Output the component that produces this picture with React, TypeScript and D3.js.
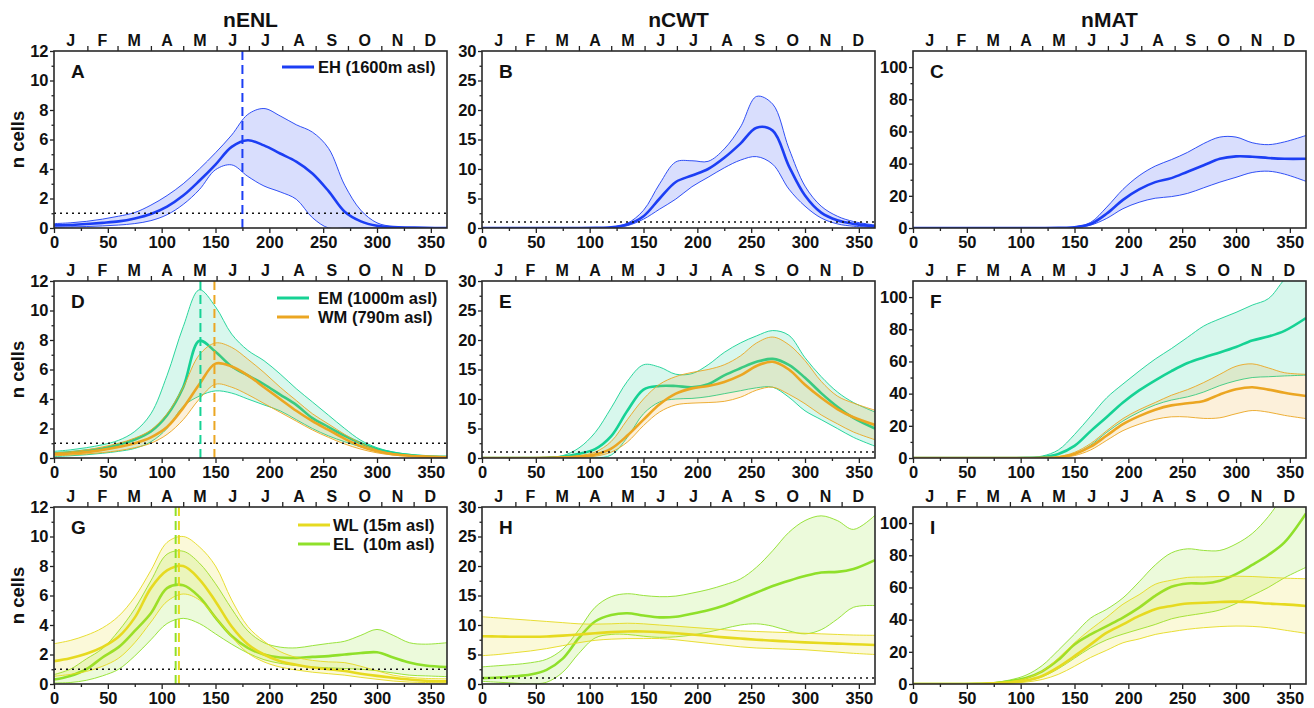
import React, { useEffect, useRef } from 'react';
import * as d3 from 'd3';

// day-of-year sample points shared by every series
const DAYS = [0, 15, 30, 45, 60, 75, 90, 105, 120, 135, 150, 165, 180, 195, 210, 225, 240, 255, 270, 285, 300, 315, 330, 345, 365];

const MONTH_STARTS = [0, 31, 59, 90, 120, 151, 181, 212, 243, 273, 304, 334, 365];
const MONTHS = ['J', 'F', 'M', 'A', 'M', 'J', 'J', 'A', 'S', 'O', 'N', 'D'];
const X_TICKS = [0, 50, 100, 150, 200, 250, 300, 350];
const X_MINOR = [25, 75, 125, 175, 225, 275, 325];
const COL_TITLES = ['nENL', 'nCWT', 'nMAT'];
const Y_MAX = [12, 30, 110];
const Y_TICKS = [[0, 2, 4, 6, 8, 10, 12], [0, 5, 10, 15, 20, 25, 30], [0, 20, 40, 60, 80, 100]];
const Y_MINOR = [[1, 3, 5, 7, 9, 11], [2.5, 7.5, 12.5, 17.5, 22.5, 27.5], [10, 30, 50, 70, 90, 110]];

// nENL
const A_EH_mean = [0.18, 0.2, 0.27, 0.35, 0.45, 0.65, 0.95, 1.45, 2.2, 3.2, 4.3, 5.5, 5.95, 5.6, 5.05, 4.5, 3.7, 2.5, 1.1, 0.45, 0.15, 0.06, 0.03, 0.01, 0];
const A_EH_hi = [0.3, 0.35, 0.45, 0.6, 0.8, 1.05, 1.55, 2.2, 3.0, 4.0, 5.1, 6.3, 7.7, 8.1, 7.6, 7.0, 6.5, 5.4, 2.9, 1.2, 0.35, 0.1, 0.04, 0.02, 0];
const A_EH_lo = [0.05, 0.07, 0.1, 0.14, 0.2, 0.3, 0.5, 0.9, 1.6, 2.6, 3.95, 4.28, 3.5, 2.85, 2.45, 1.95, 0.7, 0, 0, 0, 0, 0, 0, 0, 0];

const D_EM_mean = [0.3, 0.38, 0.5, 0.65, 0.9, 1.25, 1.8, 2.9, 4.8, 7.95, 7.2, 6.2, 5.6, 5.0, 4.3, 3.6, 2.7, 2.1, 1.5, 1.0, 0.6, 0.35, 0.2, 0.12, 0.08];
const D_EM_hi = [0.45, 0.55, 0.7, 0.9, 1.2, 1.8, 3.0, 5.6, 8.9, 11.4, 10.25, 8.4, 7.3, 6.6, 5.7, 4.7, 3.8, 2.9, 2.0, 1.2, 0.7, 0.4, 0.25, 0.15, 0.08];
const D_EM_lo = [0.1, 0.15, 0.22, 0.32, 0.45, 0.65, 1.1, 2.0, 3.5, 4.2, 4.55, 4.4, 4.0, 3.6, 3.2, 2.6, 2.0, 1.5, 1.1, 0.75, 0.45, 0.25, 0.15, 0.1, 0.05];
const D_WM_mean = [0.25, 0.3, 0.4, 0.55, 0.75, 1.0, 1.4, 2.1, 3.4, 5.0, 6.4, 6.2, 5.6, 4.8, 4.0, 3.2, 2.5, 1.9, 1.3, 0.8, 0.45, 0.25, 0.15, 0.1, 0.05];
const D_WM_hi = [0.35, 0.42, 0.55, 0.75, 1.0, 1.35, 1.9, 3.0, 4.8, 7.0, 7.8, 7.5, 6.7, 5.8, 4.8, 3.9, 3.0, 2.3, 1.6, 1.0, 0.55, 0.3, 0.18, 0.12, 0.06];
const D_WM_lo = [0.15, 0.2, 0.27, 0.37, 0.5, 0.7, 1.0, 1.6, 2.6, 4.0, 5.0, 4.8, 4.3, 3.7, 3.1, 2.5, 1.9, 1.4, 0.95, 0.6, 0.35, 0.2, 0.12, 0.07, 0.04];

const G_EL_mean = [0.3, 0.55, 1.0, 1.8, 2.5, 3.6, 4.8, 6.5, 6.7, 5.9, 4.5, 3.25, 2.45, 2.0, 1.8, 1.77, 1.84, 1.89, 2.0, 2.1, 2.15, 1.8, 1.45, 1.25, 1.15];
const G_EL_hi = [0.64, 1.0, 1.7, 2.4, 3.6, 5.1, 7.0, 8.8, 9.0, 8.2, 6.8, 5.1, 3.6, 2.8, 2.5, 2.45, 2.6, 2.75, 2.9, 3.3, 3.7, 3.3, 2.8, 2.7, 2.8];
const G_EL_lo = [0.07, 0.1, 0.25, 0.55, 1.0, 1.9, 3.0, 4.1, 4.45, 4.1, 3.4, 2.7, 2.1, 1.65, 1.4, 1.25, 1.15, 1.1, 1.05, 1.0, 0.9, 0.75, 0.6, 0.55, 0.5];
const G_WL_mean = [1.55, 1.75, 2.05, 2.5, 3.2, 4.5, 6.5, 7.7, 8.0, 7.1, 5.6, 3.9, 2.7, 2.0, 1.55, 1.3, 1.12, 1.0, 0.88, 0.7, 0.55, 0.42, 0.3, 0.22, 0.18];
const G_WL_hi = [2.73, 2.95, 3.3, 3.8, 4.6, 5.9, 7.7, 9.6, 10.0, 9.3, 8.0, 5.7, 3.9, 2.9, 2.2, 1.8, 1.6, 1.5, 1.45, 1.2, 0.9, 0.6, 0.45, 0.38, 0.35];
const G_WL_lo = [0.52, 0.65, 0.85, 1.2, 1.75, 2.8, 4.2, 5.6, 6.1, 5.7, 4.5, 3.2, 2.1, 1.5, 1.15, 0.95, 0.8, 0.7, 0.6, 0.45, 0.32, 0.2, 0.13, 0.1, 0.08];

// nCWT
const B_EH_mean = [0, 0, 0, 0, 0, 0, 0, 0.02, 0.1, 0.6, 2.0, 5.0, 7.8, 8.9, 10.0, 11.9, 14.3, 17.0, 16.5, 10.5, 5.5, 2.6, 1.3, 0.7, 0.3];
const B_EH_hi = [0, 0, 0, 0, 0, 0, 0, 0.02, 0.15, 0.8, 3.0, 7.5, 11.2, 11.4, 11.3, 13.4, 17.1, 22.3, 21.0, 13.5, 7.1, 3.7, 2.0, 1.1, 0.5];
const B_EH_lo = [0, 0, 0, 0, 0, 0, 0, 0, 0.05, 0.4, 1.5, 3.2, 4.9, 7.0, 8.6, 10.2, 11.5, 12.1, 10.8, 6.6, 3.7, 1.7, 0.7, 0.3, 0.1];

const E_EM_mean = [0, 0, 0, 0, 0.05, 0.2, 0.7, 1.5, 3.7, 8.0, 11.6, 12.2, 12.2, 12.0, 12.5, 14.0, 15.2, 16.3, 16.8, 15.8, 13.6, 11.0, 8.7, 6.8, 5.0];
const E_EM_hi = [0, 0, 0, 0.02, 0.1, 0.4, 1.7, 4.3, 8.5, 13.0, 15.8, 15.4, 14.2, 14.3, 15.8, 17.9, 19.5, 20.7, 21.6, 20.8, 17.0, 13.8, 11.2, 9.4, 7.8];
const E_EM_lo = [0, 0, 0, 0, 0, 0, 0, 0, 0.5, 3.5, 7.5, 9.5, 10.0, 10.1, 10.4, 10.9, 11.4, 11.9, 12.0, 10.3, 8.0, 6.5, 5.0, 3.5, 2.0];
const E_WM_mean = [0, 0, 0, 0, 0.02, 0.1, 0.25, 0.6, 1.6, 3.8, 6.5, 9.1, 10.9, 11.8, 12.2, 12.9, 14.0, 15.6, 16.3, 15.0, 12.4, 10.2, 8.3, 6.9, 5.6];
const E_WM_hi = [0, 0, 0, 0, 0.03, 0.15, 0.4, 1.0, 2.8, 6.5, 10.0, 12.5, 13.8, 14.5, 15.0, 15.8, 17.3, 19.5, 20.5, 19.2, 16.5, 13.0, 10.5, 9.3, 8.1];
const E_WM_lo = [0, 0, 0, 0, 0, 0.05, 0.1, 0.3, 1.0, 2.7, 5.5, 7.8, 9.0, 9.3, 9.4, 9.6, 10.3, 11.5, 12.0, 10.8, 9.2, 7.3, 5.8, 4.4, 3.1];

const H_EL_mean = [1.0, 1.1, 1.3, 1.6, 2.4, 4.3, 7.8, 10.6, 11.7, 12.0, 11.6, 11.3, 11.4, 11.9, 12.5, 13.3, 14.4, 15.5, 16.6, 17.5, 18.3, 18.9, 19.0, 19.5, 21.0];
const H_EL_hi = [2.9, 3.1, 3.3, 3.6, 4.2, 5.9, 9.2, 13.0, 14.8, 15.3, 15.0, 14.8, 14.9, 15.4, 16.0, 16.8, 17.8, 19.8, 22.6, 25.7, 27.7, 28.5, 27.7, 26.2, 28.6];
const H_EL_lo = [0.45, 0.3, 0.15, 0.03, 0.3, 2.0, 5.2, 7.8, 8.4, 8.4, 8.1, 7.9, 8.0, 8.3, 8.8, 9.4, 10.0, 10.2, 9.8, 9.0, 8.5, 9.2, 11.0, 13.0, 13.3];
const H_WL_mean = [8.1, 8.05, 8.0, 8.0, 8.05, 8.2, 8.4, 8.6, 8.8, 8.9, 8.9, 8.8, 8.6, 8.4, 8.15, 7.9, 7.7, 7.5, 7.35, 7.2, 7.05, 6.95, 6.85, 6.75, 6.6];
const H_WL_hi = [11.4, 11.2, 11.0, 10.8, 10.6, 10.4, 10.2, 10.15, 10.2, 10.3, 10.2, 10.0, 9.8, 9.6, 9.4, 9.2, 9.0, 8.9, 8.8, 8.7, 8.6, 8.5, 8.4, 8.3, 8.25];
const H_WL_lo = [4.8, 5.0, 5.3, 5.6, 6.0, 6.5, 7.0, 7.4, 7.6, 7.7, 7.7, 7.7, 7.5, 7.2, 6.9, 6.6, 6.3, 6.1, 6.0, 5.9, 5.8, 5.6, 5.4, 5.2, 5.0];

// nMAT
const C_EH_mean = [0, 0, 0, 0, 0, 0, 0, 0, 0, 0.1, 0.5, 2.5, 9, 17.5, 24, 28.5, 31, 35, 39, 43, 44.5, 44.3, 43.5, 43, 43];
const C_EH_hi = [0, 0, 0, 0, 0, 0, 0, 0, 0, 0.15, 0.7, 3.5, 13, 24, 32.5, 38.5, 42.5, 47, 52.5, 56.5, 56.5, 53, 51.8, 53.5, 57.5];
const C_EH_lo = [0, 0, 0, 0, 0, 0, 0, 0, 0, 0.05, 0.3, 1.8, 6, 12, 16, 18.5, 19.5, 21.5, 25, 28.5, 31.5, 34.5, 35.3, 33.5, 29];

const F_EM_mean = [0, 0, 0, 0, 0, 0, 0, 0.1, 0.5, 2.5, 7.5, 16.7, 25.5, 34.5, 42, 48.3, 54, 59, 62.5, 65.6, 69, 73, 75.5, 79, 87];
const F_EM_hi = [0, 0, 0, 0, 0, 0, 0, 0.2, 1.2, 5, 14.6, 26, 37.5, 46, 54, 61.5, 68, 75, 82, 86.5, 90.5, 95, 99, 111, 125];
const F_EM_lo = [0, 0, 0, 0, 0, 0, 0, 0, 0.1, 0.6, 2.5, 8, 16, 23, 28.5, 33, 36, 38, 41, 45, 48, 50, 50.5, 51, 51.5];
const F_WM_mean = [0, 0, 0, 0, 0, 0, 0, 0, 0.05, 0.5, 2.5, 7, 14, 21, 26, 30, 32.7, 34, 35.4, 39.5, 42.7, 44, 42.5, 40.6, 38.5];
const F_WM_hi = [0, 0, 0, 0, 0, 0, 0, 0, 0.1, 0.8, 3.5, 9, 17, 24.5, 30, 34.5, 39, 42.5, 46.9, 52, 57, 58.5, 56, 53, 52];
const F_WM_lo = [0, 0, 0, 0, 0, 0, 0, 0, 0.02, 0.2, 1.5, 5, 11, 17, 21, 24, 25.6, 25.5, 24.6, 25, 27.5, 29.5, 28.5, 26.5, 24.5];

const I_EL_mean = [0, 0, 0, 0, 0.1, 0.5, 1.7, 3.75, 7.9, 15, 24.6, 30.8, 36, 41.3, 47.5, 54.8, 60.4, 62.5, 62.5, 64.2, 68.3, 74, 80.2, 88, 106];
const I_EL_hi = [0, 0, 0, 0, 0.2, 0.8, 2.5, 5.5, 11.5, 21, 31, 41, 46.5, 53.5, 63.5, 74, 81.5, 84, 83, 83, 87, 93.5, 104, 118, 135];
const I_EL_lo = [0, 0, 0, 0, 0.05, 0.3, 1.0, 2.0, 4.5, 9.5, 16, 22.5, 27.5, 31, 34, 37, 40.5, 42.5, 44, 46, 50, 55, 60, 66, 72.5];
const I_WL_mean = [0, 0, 0, 0, 0.1, 0.5, 1.0, 2.2, 5, 10.5, 17.3, 24.6, 31.9, 37, 42.3, 46.5, 48.5, 50, 50.5, 51, 51.2, 50.8, 50, 49.5, 48.5];
const I_WL_hi = [0, 0, 0, 0, 0.15, 0.7, 1.5, 3.5, 8, 16, 25.6, 34, 41.5, 49.6, 55.5, 62, 64.5, 66.25, 66.5, 66.8, 67, 66.8, 66.3, 65.8, 65.4];
const I_WL_lo = [0, 0, 0, 0, 0.05, 0.3, 0.5, 1.2, 2.8, 6, 11, 16.5, 21, 25.6, 28, 30.8, 32.5, 34, 35, 35.7, 36, 35.8, 35, 33.5, 31.5];

const COLORS = { EH: '#1c3ef4', EM: '#16d294', WM: '#eba622', WL: '#e6da20', EL: '#8fe02a' };
const LEGEND_TEXT = { EH: 'EH (1600m asl)', EM: 'EM (1000m asl)', WM: 'WM (790m asl)', WL: 'WL (15m asl)', EL: 'EL  (10m asl)' };

const PEAK_DAYS = { A: [['EH', 175]], D: [['EM', 136], ['WM', 149]], G: [['EL', 113], ['WL', 116]] };

const PANELS = [
  { id: 'A', col: 0, row: 0, dotted: true, series: [['EH', A_EH_mean, A_EH_hi, A_EH_lo]], legend: ['EH'], lx: 228, ly: 16, lt: 264 },
  { id: 'B', col: 1, row: 0, dotted: true, series: [['EH', B_EH_mean, B_EH_hi, B_EH_lo]] },
  { id: 'C', col: 2, row: 0, dotted: false, series: [['EH', C_EH_mean, C_EH_hi, C_EH_lo]] },
  { id: 'D', col: 0, row: 1, dotted: true, series: [['EM', D_EM_mean, D_EM_hi, D_EM_lo], ['WM', D_WM_mean, D_WM_hi, D_WM_lo]], legend: ['EM', 'WM'], lx: 223, ly: 17, lt: 264 },
  { id: 'E', col: 1, row: 1, dotted: true, series: [['EM', E_EM_mean, E_EM_hi, E_EM_lo], ['WM', E_WM_mean, E_WM_hi, E_WM_lo]] },
  { id: 'F', col: 2, row: 1, dotted: false, series: [['EM', F_EM_mean, F_EM_hi, F_EM_lo], ['WM', F_WM_mean, F_WM_hi, F_WM_lo]] },
  { id: 'G', col: 0, row: 2, dotted: true, series: [['EL', G_EL_mean, G_EL_hi, G_EL_lo], ['WL', G_WL_mean, G_WL_hi, G_WL_lo]], legend: ['WL', 'EL'], lx: 244, ly: 18, lt: 279 },
  { id: 'H', col: 1, row: 2, dotted: true, series: [['EL', H_EL_mean, H_EL_hi, H_EL_lo], ['WL', H_WL_mean, H_WL_hi, H_WL_lo]] },
  { id: 'I', col: 2, row: 2, dotted: false, series: [['EL', I_EL_mean, I_EL_hi, I_EL_lo], ['WL', I_WL_mean, I_WL_hi, I_WL_lo]] },
];

const COL_X = [54, 482, 913];
const ROW_Y = [51, 281, 507];
const PW = 393;
const PH = 177;
const FONT = "'Liberation Sans', Arial, Helvetica, sans-serif";

export default function App() {
  const svgRef = useRef<SVGSVGElement>(null);

  useEffect(() => {
    const svg = d3.select(svgRef.current);
    svg.selectAll('*').remove();

    svg.append('rect').attr('width', 1314).attr('height', 708).attr('fill', '#fff');

    // column titles
    COL_TITLES.forEach((t, c) => {
      svg.append('text')
        .attr('x', COL_X[c] + PW / 2)
        .attr('y', 26.5)
        .attr('text-anchor', 'middle')
        .style('font', `bold 21px ${FONT}`)
        .attr('fill', '#111')
        .text(t);
    });

    // y label for each row
    ROW_Y.forEach(r => {
      svg.append('text')
        .attr('transform', `translate(24,${r + PH / 2}) rotate(-90)`)
        .attr('text-anchor', 'middle')
        .style('font', `bold 18.5px ${FONT}`)
        .attr('fill', '#111')
        .text('n cells');
    });

    const xScale = d3.scaleLinear().domain([0, 365]).range([0, PW]);
    const curve = d3.curveCatmullRom.alpha(0.5);

    PANELS.forEach(p => {
      const yScale = d3.scaleLinear().domain([0, Y_MAX[p.col]]).range([PH, 0]);
      const g = svg.append('g').attr('transform', `translate(${COL_X[p.col]},${ROW_Y[p.row]})`);

      const clipId = `clip-${p.id}`;
      g.append('clipPath').attr('id', clipId)
        .append('rect').attr('width', PW).attr('height', PH);
      const plot = g.append('g').attr('clip-path', `url(#${clipId})`);

      p.series.forEach(([key, mean, hi, lo]: any) => {
        const color = COLORS[key];
        const rows = DAYS.map((d, k) => ({ d, m: mean[k], hi: hi[k], lo: lo[k] }));
        const area = d3.area<any>()
          .x(r => xScale(r.d))
          .y0(r => yScale(r.lo))
          .y1(r => yScale(r.hi))
          .curve(curve);
        plot.append('path').datum(rows)
          .attr('d', area)
          .attr('fill', color)
          .attr('fill-opacity', 0.17);

        ['hi', 'lo'].forEach(k => {
          const line = d3.line<any>().x(r => xScale(r.d)).y(r => yScale(r[k])).curve(curve);
          plot.append('path').datum(rows)
            .attr('d', line)
            .attr('fill', 'none')
            .attr('stroke', color)
            .attr('stroke-width', 1)
            .attr('stroke-opacity', 0.9);
        });

        const meanLine = d3.line<any>().x(r => xScale(r.d)).y(r => yScale(r.m)).curve(curve);
        plot.append('path').datum(rows)
          .attr('d', meanLine)
          .attr('fill', 'none')
          .attr('stroke', color)
          .attr('stroke-width', 2.6);
      });

      if (p.dotted) {
        plot.append('line')
          .attr('x1', 0).attr('x2', PW)
          .attr('y1', yScale(1)).attr('y2', yScale(1))
          .attr('stroke', '#111')
          .attr('stroke-width', 1.5)
          .attr('stroke-dasharray', '2 4');
      }

      const peaks = PEAK_DAYS[p.id] || [];
      peaks.forEach(([key, day]) => {
        plot.append('line')
          .attr('x1', xScale(day)).attr('x2', xScale(day))
          .attr('y1', 0).attr('y2', PH)
          .attr('stroke', COLORS[key])
          .attr('stroke-width', 2)
          .attr('stroke-dasharray', '9 5');
      });

      // axes
      const styleAxis = (sel) => {
        sel.select('.domain').remove();
        sel.selectAll('line').attr('stroke', '#222').attr('stroke-width', 1.3);
        sel.selectAll('text').style('font', `bold 16.5px ${FONT}`).attr('fill', '#111');
      };

      g.append('g').attr('transform', `translate(0,${PH})`)
        .call(d3.axisBottom(xScale).tickValues(X_TICKS).tickSize(5).tickPadding(3).tickFormat(d3.format('d')))
        .call(styleAxis);
      g.append('g').attr('transform', `translate(0,${PH})`)
        .call(d3.axisBottom(xScale).tickValues(X_MINOR).tickSize(3).tickFormat(() => ''))
        .call(styleAxis);

      g.append('g')
        .call(d3.axisLeft(yScale).tickValues(Y_TICKS[p.col]).tickSize(4).tickPadding(1.5).tickFormat(d3.format('d')))
        .call(styleAxis);
      g.append('g')
        .call(d3.axisLeft(yScale).tickValues(Y_MINOR[p.col].filter(v => v < Y_MAX[p.col])).tickSize(2.5).tickFormat(() => ''))
        .call(styleAxis);

      g.append('g')
        .call(d3.axisTop(xScale).tickValues(MONTH_STARTS.slice(1, 12)).tickSize(5).tickFormat(() => ''))
        .call(styleAxis);

      MONTHS.forEach((m, k) => {
        g.append('text')
          .attr('x', xScale((MONTH_STARTS[k] + MONTH_STARTS[k + 1]) / 2))
          .attr('y', -5)
          .attr('text-anchor', 'middle')
          .style('font', `bold 16px ${FONT}`)
          .attr('fill', '#111')
          .text(m);
      });

      g.append('rect')
        .attr('width', PW).attr('height', PH)
        .attr('fill', 'none')
        .attr('stroke', '#2a2a2a')
        .attr('stroke-width', 1.6);

      g.append('text')
        .attr('x', 17).attr('y', 27)
        .style('font', `bold 19px ${FONT}`)
        .attr('fill', '#111')
        .text(p.id);

      if (p.legend) {
        p.legend.forEach((key, k) => {
          const ly = p.ly + k * 19;
          g.append('line')
            .attr('x1', p.lx).attr('x2', p.lx + 32)
            .attr('y1', ly).attr('y2', ly)
            .attr('stroke', COLORS[key])
            .attr('stroke-width', 3);
          g.append('text')
            .attr('x', p.lt).attr('y', ly + 5.5)
            .attr('xml:space', 'preserve')
            .style('white-space', 'pre')
            .style('font', `bold 16.5px ${FONT}`)
            .attr('fill', '#111')
            .text(LEGEND_TEXT[key]);
        });
      }
    });
  }, []);

  return (
    <svg
      ref={svgRef}
      width={1314}
      height={708}
      style={{ position: 'absolute', left: 0, top: 0, display: 'block' }}
    />
  );
}
